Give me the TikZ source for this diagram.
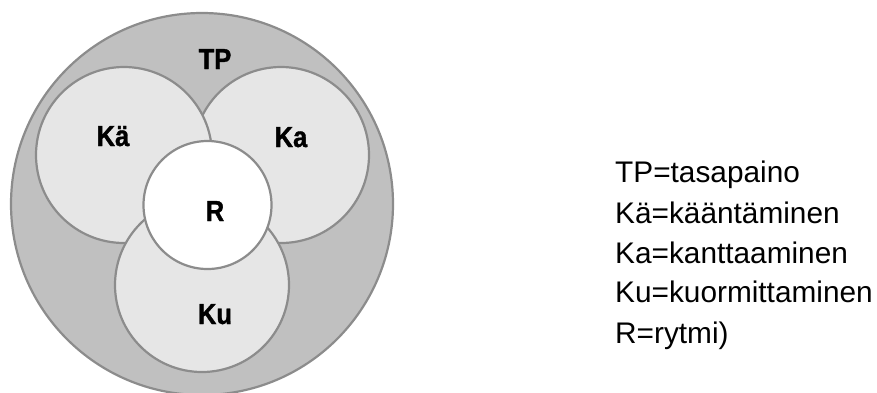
\documentclass[tikz,border=0pt]{standalone}
\usepackage{fontspec}
\setmainfont{Liberation Sans}
\newfontfamily\labfont{Liberation Sans Bold}[FakeStretch=0.88,FakeBold=1.2]
\begin{document}
\begin{tikzpicture}[x=1pt,y=-1pt,
  ring/.style={circle,draw=edgegray,line width=2.2pt,inner sep=0pt,outer sep=0pt},
  lab/.style={anchor=base,inner sep=0pt,font=\labfont\fontsize{29}{32}\selectfont},
  leg/.style={anchor=base west,inner sep=0pt,font=\fontsize{29.8}{34}\selectfont}]
\definecolor{edgegray}{HTML}{8C8C8C}
\definecolor{outerfill}{HTML}{C0C0C0}
\definecolor{innerfill}{HTML}{E6E6E6}
\useasboundingbox (0,0) rectangle (877,392);
\fill[white] (0,0) rectangle (877,392);
% outer circle and the three overlapping circles (Ka below Kä, Ku above both)
\node[ring,fill=outerfill,minimum size=382pt] (tp) at (202,204) {};
\node[ring,fill=innerfill,minimum size=176pt] (ka2) at (281,155) {};
\node[ring,fill=innerfill,minimum size=176pt] (ka1) at (124,155) {};
\node[ring,fill=innerfill,minimum size=174pt] (ku) at (202,285) {};
\node[ring,fill=white,minimum size=128pt] (r) at (207.5,205) {};
% labels
\node[lab] (ltp) at (215,69) {TP};
\node[lab] (lka1) at (113,146) {Kä};
\node[lab] (lka2) at (291,147) {Ka};
\node[lab] (lr) at (215,221) {R};
\node[lab] (lku) at (215,324) {Ku};
% legend
\node[leg] (g1) at (615,182) {TP=tasapaino};
\node[leg] (g2) at (615,223) {Kä=kääntäminen};
\node[leg] (g3) at (615,263) {Ka=kanttaaminen};
\node[leg] (g4) at (615,302) {Ku=kuormittaminen};
\node[leg] (g5) at (615,343) {R=rytmi)};
\end{tikzpicture}
\end{document}
